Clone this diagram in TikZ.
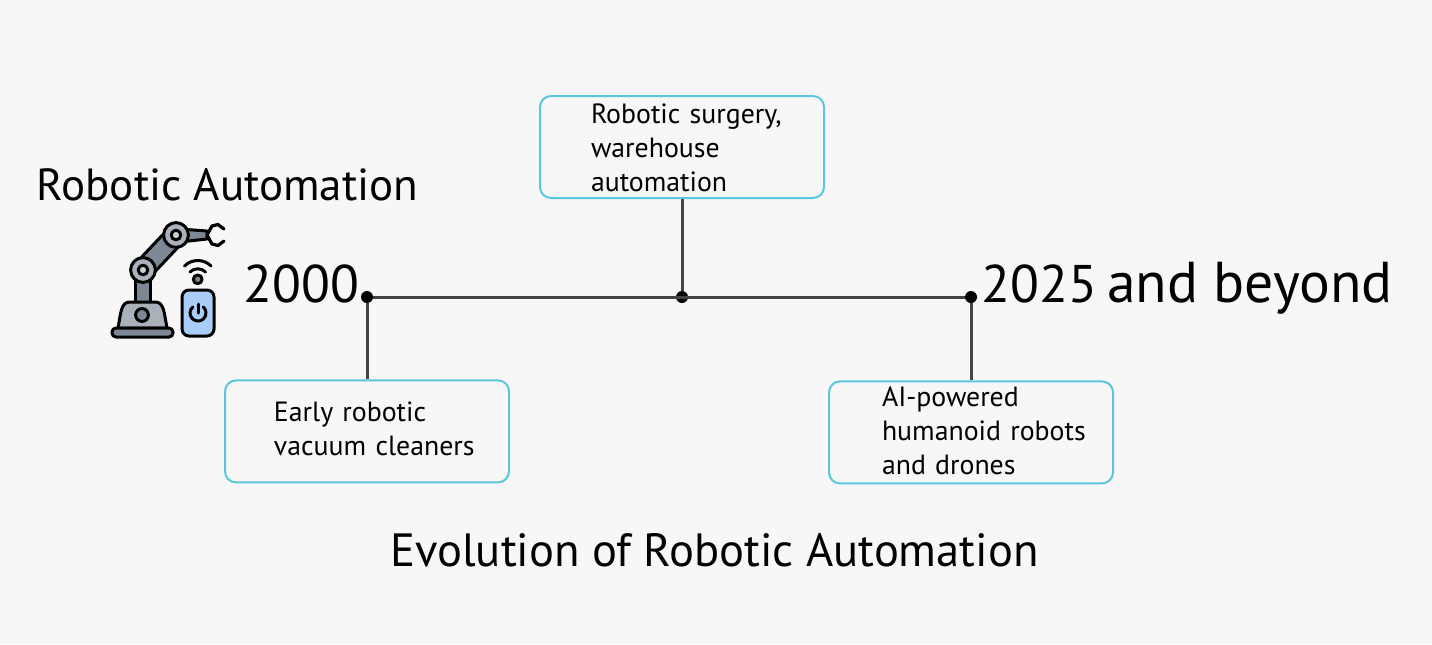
\documentclass[tikz,border=0pt]{standalone}
\usepackage{fontspec}
\setmainfont{PT Sans}
\usepackage{tikz}
\usetikzlibrary{positioning}
\definecolor{pagebg}{HTML}{F7F7F7}
\definecolor{boxline}{HTML}{5CC6DC}
\definecolor{stemline}{HTML}{444444}
\definecolor{armdark}{HTML}{7E8894}
\definecolor{armlight}{HTML}{ABB1BA}
\definecolor{phonefill}{HTML}{A9CDF6}
\tikzstyle{dot}=[circle,fill=black,inner sep=0pt,minimum size=6pt]
\tikzstyle{event}=[draw=boxline,line width=1pt,rounded corners=5.5pt,minimum width=142pt,minimum height=51pt,
  inner xsep=0pt,inner ysep=0pt,text width=142pt,align=left,font=\fontsize{13.9}{17}\selectfont]
\tikzstyle{year}=[inner sep=0pt,anchor=base west,font=\fontsize{26.5}{30}\selectfont]
\tikzstyle{heading}=[inner sep=0pt,anchor=base west,font=\fontsize{22.5}{26}\selectfont]
\tikzstyle{stem}=[stemline,line width=1.5pt]
\tikzstyle{ink}=[draw=black,line width=1.5pt,line join=round,line cap=round]
\newcommand{\evlines}[3]{\hspace*{#1}\raisebox{#2}[0pt][0pt]{\begin{tabular}[c]{@{}l@{}}#3\end{tabular}}}

\begin{document}
\begin{tikzpicture}[x=0.5pt,y=-0.5pt,on grid]
    \fill[pagebg] (0,0) rectangle (1432,644);
    \useasboundingbox (0,0) rectangle (1432,644);

    \node[dot]   (d_0) at (367,297)           {};
    \node[dot]   (d_1) [right=157.5pt of d_0] {};
    \node[dot]   (d_2) [right=302pt of d_0]   {};

    \node[event] (b_0) [below=67.2pt of d_0]  {\evlines{24.5pt}{-3.5pt}{Early robotic\\vacuum cleaners}};
    \node[event] (b_1) [above=75pt of d_1]    {\evlines{25.5pt}{-5.5pt}{Robotic surgery,\\warehouse\\automation}};
    \node[event] (b_2) [below=67.7pt of d_2]  {\evlines{26.5pt}{-4pt}{AI-powered\\humanoid robots\\and drones}};

    \path[stem] (d_0) edge (d_2)
                (d_0) edge (b_0)
                (d_1) edge (b_1)
                (d_2) edge (b_2);

    \node[heading] (t_0) at (36.5,200) {Robotic Automation};
    \node[year]    (y_0) at (243,302)  {2000};
    \node[year]    (y_1) at (981,302)  {2025};
    \node[year,font=\fontsize{28.8}{32}\selectfont] (y_2) at (1107,302) {and beyond};
    \node[heading,font=\fontsize{23.3}{27}\selectfont] (t_1) at (390,566)  {Evolution of Robotic Automation};

    % robot arm
    \draw[ink,fill=armdark] (135,276) rectangle (150,303);
    \draw[ink,fill=armdark] (137,262) -- (170,227) -- (182,243) -- (149,278) -- cycle;
    \draw[ink,fill=armdark] (180,229) -- (207,231) -- (207,239) -- (180,242) -- cycle;
    \draw[ink,fill=armlight] (118,328) .. controls (121,312) and (121,302) .. (130,302)
      -- (155,302) .. controls (164,302) and (164,312) .. (167,328) -- cycle;
    \draw[ink,fill=armdark,rounded corners=2pt] (112,328) rectangle (173,337);
    \draw[ink,fill=armdark] (142,315) circle (3.2pt);
    \foreach \jx/\jy in {143/270,176/235}{
      \draw[ink,fill=armlight] (\jx,\jy) circle (6.2pt);
      \draw[ink,fill=armdark!40] (\jx,\jy) circle (2.4pt);
    }
    \draw[ink,line width=1.6pt] (207,235) -- (212,226) -- (218,224.5) -- (224,229)
      (207,235) -- (212,244) -- (218,245.5) -- (224,241);

    % phone
    \draw[ink,fill=phonefill,rounded corners=3.5pt] (182,290) rectangle (214,336);
    \draw[ink] (192.9,306.9) arc (130:410:4pt);
    \draw[ink] (198,304) -- (198,313);

    % signal
    \draw[ink,fill=armdark] (197.7,279.3) circle (2.2pt);
    \draw[ink] (190,272) arc (135:45:5.5pt);
    \draw[ink] (184.5,266) arc (135:45:9.4pt);
\end{tikzpicture}
\end{document}
